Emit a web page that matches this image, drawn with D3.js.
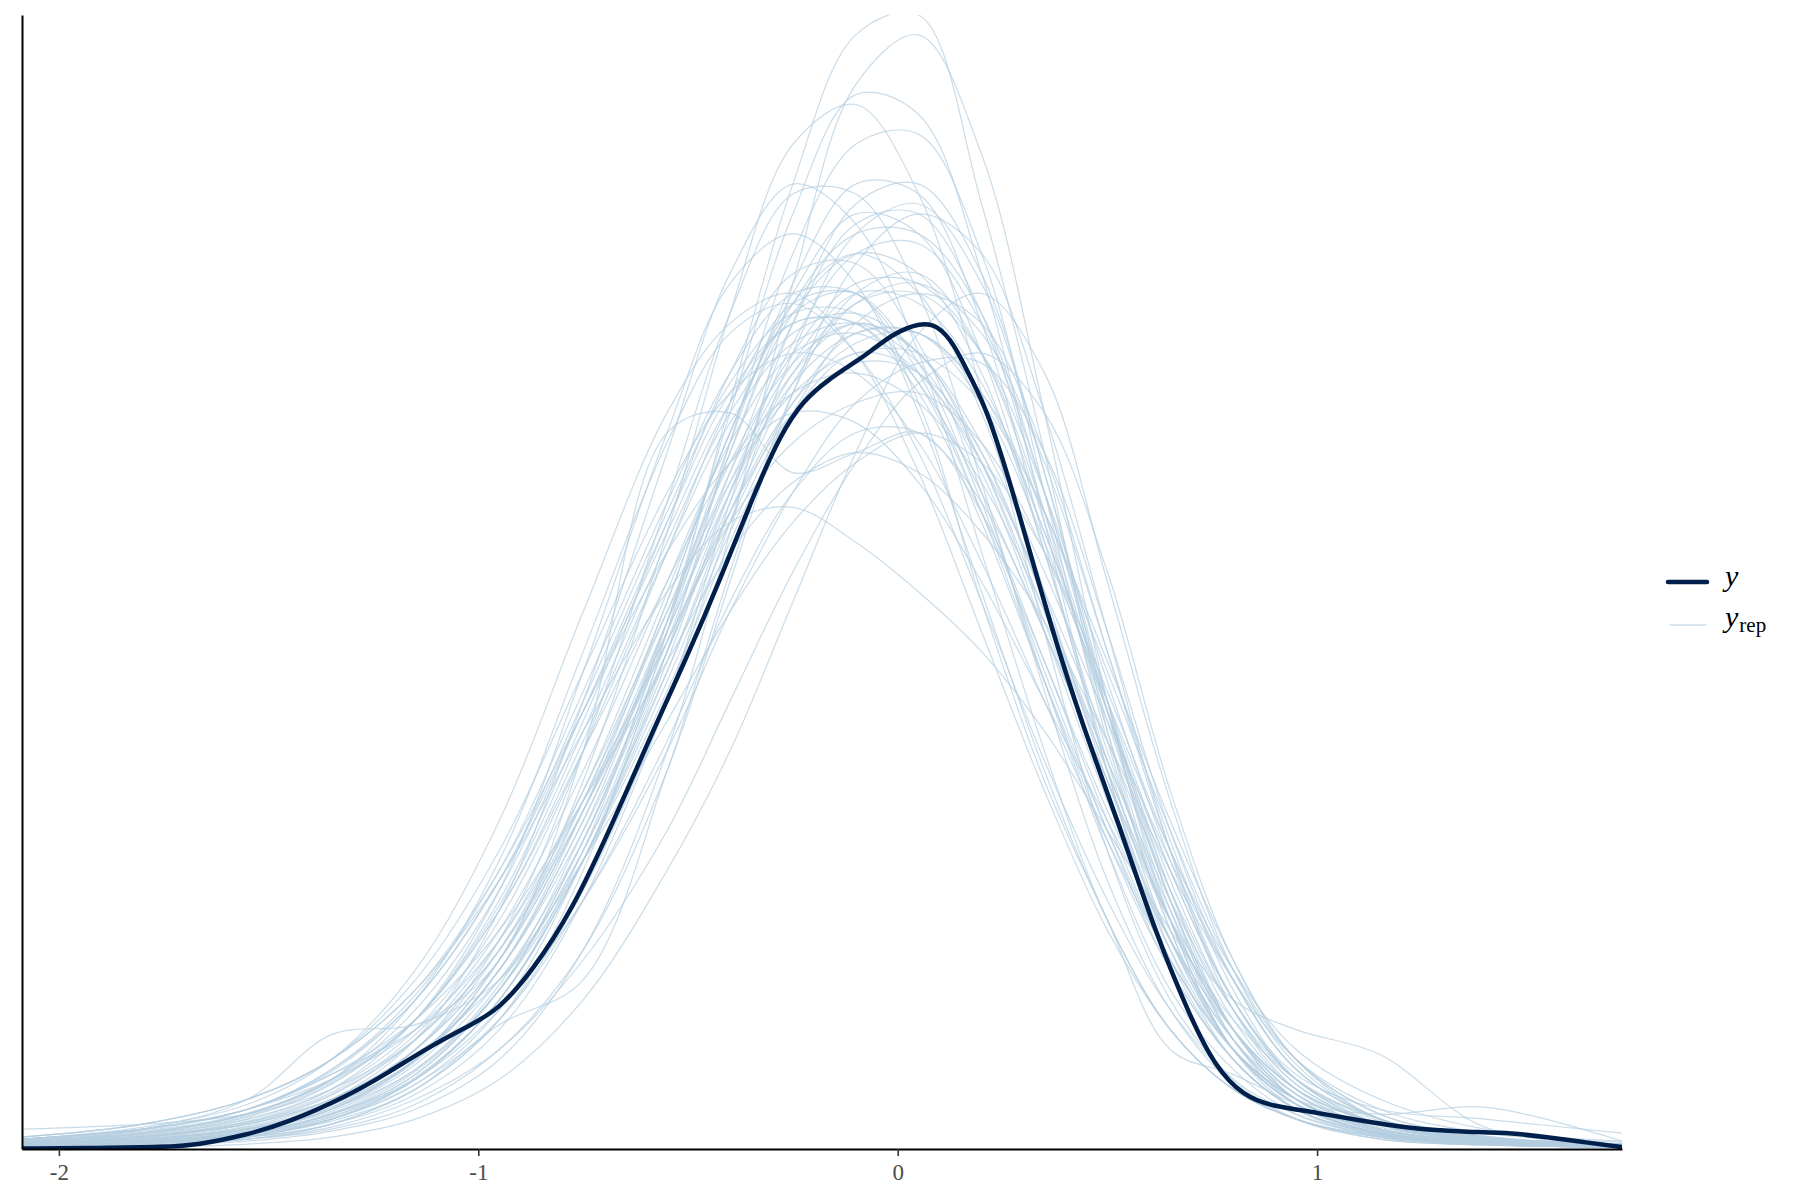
<!DOCTYPE html>
<html>
<head>
<meta charset="utf-8">
<script src="https://cdn.jsdelivr.net/npm/d3@7"></script>
<style>
  body { margin: 0; background: #fff; }
  svg { display: block; }
</style>
</head>
<body>
<div id="chart-area"></div>
<script>
const yX = [-2.088, -1.9, -1.75, -1.67, -1.555, -1.457, -1.312, -1.214, -1.116, -1.021, -0.952, -0.873,
    -0.777, -0.68, -0.582, -0.501, -0.422, -0.343, -0.279, -0.224, -0.167, -0.105, -0.064, -0.01,
    0.055, 0.095, 0.134, 0.174, 0.215, 0.286, 0.365, 0.444, 0.525, 0.613, 0.696, 0.756, 0.825,
    0.892, 0.995, 1.123, 1.25, 1.378, 1.464, 1.548, 1.634, 1.727];
const yD = [0.0005, 0.001, 0.002, 0.004, 0.014, 0.026, 0.053, 0.077, 0.103, 0.124, 0.14, 0.178,
    0.239, 0.327, 0.422, 0.496, 0.574, 0.658, 0.719, 0.753, 0.773, 0.79, 0.802, 0.82,
    0.831, 0.828, 0.81, 0.775, 0.742, 0.645, 0.525, 0.422, 0.33, 0.219, 0.134, 0.083, 0.053,
    0.043, 0.037, 0.027, 0.019, 0.017, 0.016, 0.012, 0.007, 0.002];

// Replicated densities (yrep), all on the same x grid
const gridX = [-2.088, -1.8, -1.55, -1.35, -1.15, -0.95, -0.75, -0.55, -0.4, -0.25, -0.1,
    0.05, 0.2, 0.35, 0.5, 0.65, 0.8, 0.95, 1.15, 1.4, 1.727];
const yrepDraws = [
    [0.003, 0.006, 0.012, 0.025, 0.06, 0.13, 0.28, 0.52, 0.75, 0.97, 1.12, 1.14, 0.95, 0.70, 0.42, 0.22, 0.10, 0.045, 0.015, 0.005, 0.002],
    [0.002, 0.004, 0.008, 0.018, 0.04, 0.09, 0.20, 0.40, 0.62, 0.87, 1.07, 1.12, 1.00, 0.74, 0.45, 0.23, 0.10, 0.04, 0.012, 0.004, 0.002],
    [0.004, 0.008, 0.015, 0.03, 0.07, 0.15, 0.30, 0.53, 0.74, 0.94, 1.06, 1.04, 0.88, 0.63, 0.38, 0.19, 0.09, 0.04, 0.014, 0.005, 0.002],
    [0.005, 0.01, 0.02, 0.04, 0.09, 0.19, 0.37, 0.62, 0.84, 1.01, 1.05, 0.96, 0.76, 0.52, 0.30, 0.15, 0.07, 0.03, 0.01, 0.004, 0.002],
    [0.003, 0.007, 0.014, 0.03, 0.065, 0.14, 0.29, 0.50, 0.71, 0.90, 1.01, 1.02, 0.90, 0.66, 0.41, 0.22, 0.10, 0.045, 0.016, 0.006, 0.002],
    [0.006, 0.012, 0.025, 0.05, 0.11, 0.24, 0.45, 0.70, 0.88, 0.97, 0.93, 0.80, 0.60, 0.40, 0.23, 0.12, 0.06, 0.03, 0.012, 0.005, 0.003],
    [0.003, 0.006, 0.012, 0.025, 0.055, 0.12, 0.25, 0.45, 0.65, 0.83, 0.95, 0.97, 0.88, 0.68, 0.44, 0.24, 0.11, 0.05, 0.017, 0.006, 0.003],
    [0.002, 0.005, 0.01, 0.02, 0.045, 0.10, 0.20, 0.38, 0.57, 0.76, 0.89, 0.94, 0.90, 0.74, 0.52, 0.30, 0.14, 0.06, 0.02, 0.006, 0.003],
    [0.005, 0.01, 0.02, 0.045, 0.10, 0.21, 0.40, 0.65, 0.84, 0.96, 0.96, 0.86, 0.67, 0.46, 0.27, 0.14, 0.065, 0.03, 0.01, 0.004, 0.002],
    [0.008, 0.015, 0.03, 0.06, 0.13, 0.26, 0.48, 0.72, 0.87, 0.92, 0.87, 0.74, 0.56, 0.38, 0.23, 0.12, 0.06, 0.03, 0.012, 0.005, 0.003],
    [0.004, 0.008, 0.016, 0.035, 0.075, 0.16, 0.31, 0.52, 0.70, 0.85, 0.92, 0.92, 0.84, 0.66, 0.44, 0.25, 0.12, 0.055, 0.02, 0.007, 0.003],
    [0.008, 0.016, 0.035, 0.07, 0.15, 0.29, 0.50, 0.71, 0.82, 0.85, 0.80, 0.70, 0.55, 0.39, 0.25, 0.14, 0.07, 0.035, 0.014, 0.006, 0.003],
    [0.006, 0.012, 0.025, 0.05, 0.10, 0.19, 0.34, 0.53, 0.68, 0.80, 0.87, 0.87, 0.80, 0.64, 0.44, 0.26, 0.13, 0.06, 0.025, 0.009, 0.004],
    [0.004, 0.008, 0.018, 0.04, 0.08, 0.16, 0.29, 0.46, 0.61, 0.74, 0.83, 0.86, 0.83, 0.70, 0.50, 0.30, 0.15, 0.07, 0.025, 0.008, 0.003],
    [0.01, 0.02, 0.04, 0.08, 0.15, 0.27, 0.44, 0.62, 0.75, 0.83, 0.83, 0.77, 0.66, 0.52, 0.37, 0.23, 0.12, 0.06, 0.025, 0.01, 0.005],
    [0.005, 0.01, 0.022, 0.045, 0.09, 0.18, 0.32, 0.50, 0.64, 0.75, 0.81, 0.82, 0.76, 0.62, 0.45, 0.28, 0.15, 0.07, 0.03, 0.012, 0.005],
    [0.012, 0.025, 0.05, 0.09, 0.17, 0.30, 0.48, 0.66, 0.76, 0.80, 0.78, 0.71, 0.59, 0.45, 0.31, 0.19, 0.10, 0.05, 0.02, 0.008, 0.004],
    [0.003, 0.007, 0.015, 0.035, 0.07, 0.14, 0.25, 0.40, 0.54, 0.66, 0.75, 0.79, 0.79, 0.70, 0.52, 0.32, 0.17, 0.08, 0.03, 0.01, 0.004],
    [0.008, 0.016, 0.035, 0.07, 0.13, 0.24, 0.40, 0.57, 0.69, 0.76, 0.78, 0.75, 0.67, 0.54, 0.39, 0.25, 0.14, 0.07, 0.028, 0.011, 0.005],
    [0.01, 0.02, 0.04, 0.07, 0.12, 0.21, 0.35, 0.51, 0.63, 0.71, 0.75, 0.76, 0.71, 0.60, 0.45, 0.30, 0.18, 0.10, 0.05, 0.02, 0.008],
    [0.01, 0.022, 0.045, 0.09, 0.18, 0.33, 0.54, 0.74, 0.83, 0.86, 0.80, 0.68, 0.52, 0.36, 0.22, 0.12, 0.06, 0.03, 0.012, 0.005, 0.003],
    [0.002, 0.005, 0.01, 0.022, 0.05, 0.10, 0.19, 0.32, 0.45, 0.58, 0.69, 0.77, 0.80, 0.74, 0.58, 0.36, 0.19, 0.09, 0.03, 0.01, 0.004],
    [0.006, 0.013, 0.027, 0.055, 0.11, 0.20, 0.35, 0.54, 0.69, 0.79, 0.83, 0.80, 0.71, 0.58, 0.43, 0.29, 0.17, 0.08, 0.03, 0.012, 0.005],
    [0.012, 0.025, 0.05, 0.09, 0.16, 0.27, 0.42, 0.56, 0.63, 0.645, 0.61, 0.56, 0.50, 0.42, 0.32, 0.22, 0.13, 0.07, 0.03, 0.011, 0.005],
    [0.01, 0.02, 0.04, 0.075, 0.13, 0.22, 0.35, 0.49, 0.60, 0.67, 0.70, 0.68, 0.62, 0.53, 0.41, 0.28, 0.17, 0.09, 0.04, 0.016, 0.007],
    [0.006, 0.013, 0.027, 0.05, 0.095, 0.17, 0.29, 0.43, 0.54, 0.63, 0.69, 0.72, 0.69, 0.60, 0.46, 0.30, 0.17, 0.08, 0.03, 0.012, 0.005],
    [0.012, 0.025, 0.05, 0.09, 0.16, 0.28, 0.44, 0.60, 0.69, 0.74, 0.73, 0.67, 0.57, 0.45, 0.33, 0.21, 0.12, 0.06, 0.025, 0.01, 0.005],
    [0.01, 0.02, 0.04, 0.075, 0.12, 0.19, 0.40, 0.72, 0.74, 0.68, 0.70, 0.72, 0.64, 0.49, 0.33, 0.19, 0.10, 0.05, 0.02, 0.008, 0.004],
    [0.005, 0.02, 0.05, 0.115, 0.125, 0.17, 0.30, 0.50, 0.66, 0.78, 0.83, 0.80, 0.69, 0.53, 0.36, 0.21, 0.11, 0.05, 0.02, 0.007, 0.003],
    [0.002, 0.004, 0.01, 0.025, 0.06, 0.125, 0.17, 0.38, 0.58, 0.76, 0.86, 0.88, 0.80, 0.63, 0.43, 0.25, 0.12, 0.05, 0.018, 0.006, 0.002],
    [0.004, 0.008, 0.018, 0.04, 0.09, 0.19, 0.35, 0.55, 0.72, 0.84, 0.86, 0.75, 0.55, 0.37, 0.23, 0.10, 0.075, 0.045, 0.015, 0.005, 0.002],
    [0.003, 0.006, 0.012, 0.03, 0.065, 0.13, 0.25, 0.41, 0.55, 0.66, 0.72, 0.72, 0.65, 0.52, 0.37, 0.23, 0.15, 0.12, 0.095, 0.022, 0.004],
    [0.003, 0.006, 0.013, 0.03, 0.07, 0.15, 0.29, 0.47, 0.62, 0.74, 0.80, 0.78, 0.68, 0.52, 0.35, 0.20, 0.10, 0.05, 0.035, 0.042, 0.008],
    [0.02, 0.025, 0.035, 0.06, 0.11, 0.20, 0.34, 0.51, 0.64, 0.74, 0.79, 0.78, 0.70, 0.55, 0.38, 0.23, 0.12, 0.06, 0.025, 0.01, 0.005],
    [0.004, 0.008, 0.016, 0.035, 0.075, 0.16, 0.30, 0.48, 0.63, 0.75, 0.82, 0.82, 0.75, 0.61, 0.44, 0.28, 0.15, 0.075, 0.04, 0.03, 0.016],
    [0.001, 0.002, 0.005, 0.012, 0.03, 0.07, 0.15, 0.28, 0.40, 0.55, 0.70, 0.82, 0.86, 0.78, 0.57, 0.35, 0.18, 0.085, 0.03, 0.01, 0.003],
    [0.004, 0.009, 0.02, 0.042, 0.09, 0.18, 0.33, 0.53, 0.70, 0.84, 0.90, 0.88, 0.78, 0.60, 0.40, 0.23, 0.11, 0.05, 0.018, 0.006, 0.003],
    [0.007, 0.014, 0.03, 0.06, 0.12, 0.23, 0.40, 0.60, 0.75, 0.85, 0.86, 0.79, 0.65, 0.48, 0.32, 0.18, 0.09, 0.04, 0.016, 0.006, 0.003],
    [0.003, 0.007, 0.015, 0.032, 0.07, 0.15, 0.29, 0.49, 0.66, 0.81, 0.90, 0.91, 0.83, 0.66, 0.45, 0.26, 0.12, 0.05, 0.018, 0.006, 0.003],
    [0.009, 0.018, 0.036, 0.07, 0.14, 0.26, 0.44, 0.63, 0.76, 0.83, 0.83, 0.76, 0.63, 0.47, 0.32, 0.19, 0.10, 0.05, 0.02, 0.008, 0.004],
    [0.005, 0.011, 0.023, 0.048, 0.10, 0.20, 0.36, 0.56, 0.72, 0.86, 0.94, 0.92, 0.80, 0.60, 0.39, 0.21, 0.10, 0.045, 0.016, 0.005, 0.002],
    [0.004, 0.009, 0.02, 0.04, 0.085, 0.17, 0.31, 0.50, 0.65, 0.78, 0.85, 0.86, 0.80, 0.66, 0.47, 0.29, 0.15, 0.07, 0.025, 0.009, 0.004],
    [0.008, 0.017, 0.035, 0.068, 0.13, 0.25, 0.43, 0.63, 0.78, 0.88, 0.89, 0.81, 0.66, 0.47, 0.30, 0.16, 0.08, 0.035, 0.013, 0.005, 0.002],
    [0.006, 0.012, 0.025, 0.05, 0.10, 0.19, 0.34, 0.52, 0.66, 0.77, 0.82, 0.82, 0.76, 0.64, 0.48, 0.32, 0.18, 0.09, 0.035, 0.013, 0.005],
    [0.003, 0.006, 0.013, 0.028, 0.06, 0.13, 0.26, 0.45, 0.63, 0.80, 0.92, 0.95, 0.87, 0.68, 0.45, 0.25, 0.11, 0.045, 0.015, 0.005, 0.002],
    [0.01, 0.02, 0.04, 0.078, 0.15, 0.27, 0.45, 0.64, 0.77, 0.84, 0.84, 0.77, 0.64, 0.49, 0.34, 0.21, 0.11, 0.055, 0.022, 0.009, 0.004],
    [0.005, 0.01, 0.021, 0.044, 0.09, 0.18, 0.33, 0.52, 0.67, 0.79, 0.86, 0.85, 0.77, 0.62, 0.44, 0.27, 0.14, 0.065, 0.024, 0.008, 0.003],
    [0.007, 0.015, 0.032, 0.065, 0.13, 0.24, 0.41, 0.60, 0.73, 0.81, 0.83, 0.79, 0.69, 0.54, 0.38, 0.23, 0.12, 0.055, 0.02, 0.008, 0.004],
    [0.004, 0.008, 0.017, 0.036, 0.078, 0.16, 0.31, 0.51, 0.68, 0.83, 0.93, 0.94, 0.84, 0.64, 0.42, 0.23, 0.10, 0.045, 0.016, 0.005, 0.002],
    [0.006, 0.013, 0.028, 0.057, 0.115, 0.22, 0.38, 0.57, 0.71, 0.80, 0.82, 0.78, 0.69, 0.56, 0.41, 0.26, 0.14, 0.065, 0.025, 0.01, 0.004],
    [0.003, 0.007, 0.015, 0.033, 0.072, 0.15, 0.29, 0.48, 0.64, 0.77, 0.85, 0.87, 0.82, 0.69, 0.50, 0.31, 0.16, 0.07, 0.025, 0.008, 0.003],
    [0.009, 0.019, 0.04, 0.08, 0.155, 0.28, 0.46, 0.65, 0.78, 0.86, 0.86, 0.78, 0.64, 0.47, 0.31, 0.18, 0.09, 0.04, 0.015, 0.006, 0.003],
    [0.005, 0.01, 0.02, 0.042, 0.088, 0.18, 0.34, 0.55, 0.72, 0.85, 0.90, 0.86, 0.74, 0.56, 0.37, 0.21, 0.10, 0.045, 0.016, 0.006, 0.002],
    [0.006, 0.012, 0.026, 0.054, 0.11, 0.21, 0.36, 0.54, 0.67, 0.76, 0.80, 0.80, 0.75, 0.64, 0.49, 0.33, 0.19, 0.09, 0.035, 0.013, 0.005],
    [0.004, 0.008, 0.018, 0.038, 0.08, 0.165, 0.32, 0.53, 0.71, 0.87, 0.97, 0.96, 0.83, 0.61, 0.38, 0.20, 0.09, 0.04, 0.014, 0.005, 0.002],
    [0.008, 0.016, 0.033, 0.066, 0.13, 0.245, 0.42, 0.61, 0.74, 0.82, 0.84, 0.80, 0.70, 0.55, 0.39, 0.24, 0.12, 0.055, 0.02, 0.008, 0.004]
];

const xTicks = [-2, -1, 0, 1];
const colorY = "#011f4b";
const colorYrep = "#b3cde0";

const width = 1800;
const height = 1200;
const margin = { top: 15, right: 178, bottom: 51, left: 22 };
const innerW = width - margin.left - margin.right;
const innerH = height - margin.top - margin.bottom;
const fontFamily = "'Liberation Serif', 'DejaVu Serif', serif";

const svg = d3.select("#chart-area")
    .append("svg")
    .attr("width", width)
    .attr("height", height)
    .style("background", "#fff");

const g = svg.append("g")
    .attr("transform", `translate(${margin.left}, ${margin.top})`);

// Escalas
const x = d3.scaleLinear()
    .domain(d3.extent(gridX.concat(yX)))
    .range([0, innerW]);

const yMax = d3.max([d3.max(yD), d3.max(yrepDraws, r => d3.max(r))]);
const y = d3.scaleLinear()
    .domain([0, yMax])
    .range([innerH, 0]);

svg.append("defs").append("clipPath")
    .attr("id", "panel")
    .append("rect")
    .attr("width", innerW)
    .attr("height", innerH);

const repLine = d3.line()
    .x(d => x(d[0]))
    .y(d => y(d[1]))
    .curve(d3.curveCatmullRom.alpha(0.5));

const obsLine = d3.line()
    .x(d => x(d[0]))
    .y(d => y(d[1]))
    .curve(d3.curveBasis);

const plot = g.append("g").attr("clip-path", "url(#panel)");

// yrep
plot.selectAll("path.yrep")
    .data(yrepDraws)
    .enter()
    .append("path")
    .attr("class", "yrep")
    .attr("d", r => repLine(r.map((v, i) => [gridX[i], v])))
    .attr("fill", "none")
    .attr("stroke", colorYrep)
    .attr("stroke-opacity", 0.7)
    .attr("stroke-width", 1.2);

// y
plot.append("path")
    .attr("d", obsLine(yX.map((v, i) => [v, yD[i]])))
    .attr("fill", "none")
    .attr("stroke", colorY)
    .attr("stroke-width", 4.5)
    .attr("stroke-linecap", "round")
    .attr("stroke-linejoin", "round");

// Ejes
const bottomAxis = d3.axisBottom(x)
    .tickValues(xTicks)
    .tickFormat(d => String(d))
    .tickSizeInner(7)
    .tickSizeOuter(0)
    .tickPadding(8);
const xg = g.append("g")
    .attr("transform", `translate(0, ${innerH})`)
    .call(bottomAxis);
xg.select(".domain").attr("stroke", "#000").attr("stroke-width", 2);
xg.selectAll(".tick line").attr("stroke", "#333").attr("stroke-width", 1.6);
xg.selectAll(".tick text")
    .attr("font-family", fontFamily)
    .attr("font-size", "23px")
    .attr("fill", "#4d4d4d");

const leftAxis = d3.axisLeft(y).tickValues([]).tickSizeOuter(0);
const yg = g.append("g").call(leftAxis);
yg.select(".domain").attr("stroke", "#000").attr("stroke-width", 2);

// Leyenda
const legend = svg.append("g")
    .attr("transform", "translate(1668, 582)");
legend.append("line")
    .attr("x1", 0).attr("x2", 39).attr("y1", 0).attr("y2", 0)
    .attr("stroke", colorY)
    .attr("stroke-width", 4.5)
    .attr("stroke-linecap", "round");
legend.append("line")
    .attr("x1", 2).attr("x2", 38).attr("y1", 43).attr("y2", 43)
    .attr("stroke", colorYrep)
    .attr("stroke-opacity", 0.7)
    .attr("stroke-width", 1.3);
legend.append("text")
    .attr("x", 57).attr("y", 4)
    .attr("font-family", fontFamily)
    .attr("font-size", "30px")
    .attr("font-style", "italic")
    .attr("fill", "#000")
    .text("y");
const rep = legend.append("text")
    .attr("x", 57).attr("y", 45)
    .attr("font-family", fontFamily)
    .attr("font-size", "30px")
    .attr("fill", "#000");
rep.append("tspan").attr("font-style", "italic").text("y");
rep.append("tspan")
    .attr("font-size", "21px")
    .attr("dy", 5)
    .attr("dx", 1)
    .text("rep");
</script>
</body>
</html>
